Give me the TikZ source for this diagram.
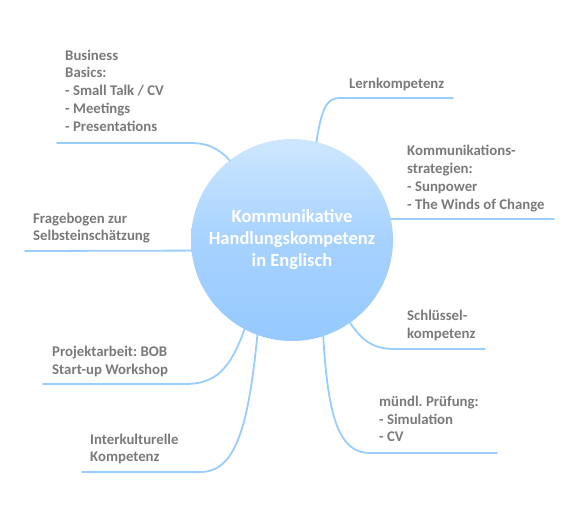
\documentclass[tikz,border=0pt]{standalone}
\usepackage{fontspec}
\setmainfont{Carlito}
\frenchspacing
\definecolor{linec}{RGB}{153,204,255}
\definecolor{topc}{RGB}{206,231,255}
\definecolor{botc}{RGB}{150,201,255}
\definecolor{txtc}{RGB}{122,122,122}
\begin{document}
\begin{tikzpicture}[x=1pt,y=-1pt,
  lbl/.style={anchor=base west,inner sep=0pt,align=left,text=txtc,
    font=\fontsize{14.8}{17.7}\selectfont\bfseries},
  conn/.style={draw=linec,line width=1.8pt,line cap=round}]
\useasboundingbox (0,0) rectangle (580,515);
\node[circle,minimum size=202pt,inner sep=0pt,top color=topc,bottom color=botc,
  middle color=botc!70!topc,draw=none,text=white,align=center,
  font=\fontsize{18.5}{22}\selectfont\bfseries] (c) at (292,240)
  {Kommunikative\\Handlungskompetenz\\in Englisch};
% labels (anchored at the baseline of their last line)
\node[lbl] (lern) at (349,88) {Lernkompetenz};
\node[lbl] (komm) at (407,209) {Kommunikations-\\strategien:\\- Sunpower\\- The Winds of Change};
\node[lbl] (schl) at (407,338) {Schlüssel-\\kompetenz};
\node[lbl] (mund) at (379,441.7) {mündl. Prüfung:\\- Simulation\\- CV};
\node[lbl] (inter) at (90,461.7) {Interkulturelle\\Kompetenz};
\node[lbl] (proj) at (52,374) {Projektarbeit: BOB\\Start-up Workshop};
\node[lbl] (frage) at (33,240.7) {Fragebogen zur\\Selbsteinschätzung};
\node[lbl] (bus) at (65,131) {Business\\Basics:\\- Small Talk / CV\\- Meetings\\- Presentations};
% coordinates
\coordinate (lernA) at (340,98); \coordinate (lernB) at (453,98);
\coordinate (kommB) at (554,219);
\coordinate (schlA) at (395,349); \coordinate (schlB) at (485,349);
\coordinate (mundA) at (370,453); \coordinate (mundB) at (497,453);
\coordinate (interA) at (200,472); \coordinate (interB) at (82,472);
\coordinate (projA) at (185,384); \coordinate (projB) at (43,384);
\coordinate (frageB) at (25,251);
\coordinate (busA) at (190,143); \coordinate (busB) at (57,143);
% connectors
\draw[conn] (c.76.5) .. controls (322,105) and (328,98) .. (lernA) -- (lernB);
\draw[conn] (c.12) -- (kommB);
\draw[conn] (c.-55) .. controls (362,340) and (372,349) .. (schlA) -- (schlB);
\draw[conn] (c.-72.6) .. controls (328,420) and (340,453) .. (mundA) -- (mundB);
\draw[conn] (c.-110) .. controls (248,430) and (235,472) .. (interA) -- (interB);
\draw[conn] (c.-118.6) .. controls (230,370) and (215,384) .. (projA) -- (projB);
\draw[conn] (c.186.2) -- (frageB);
\draw[conn] (c.128) .. controls (218,148) and (208,143) .. (busA) -- (busB);
\end{tikzpicture}
\end{document}
